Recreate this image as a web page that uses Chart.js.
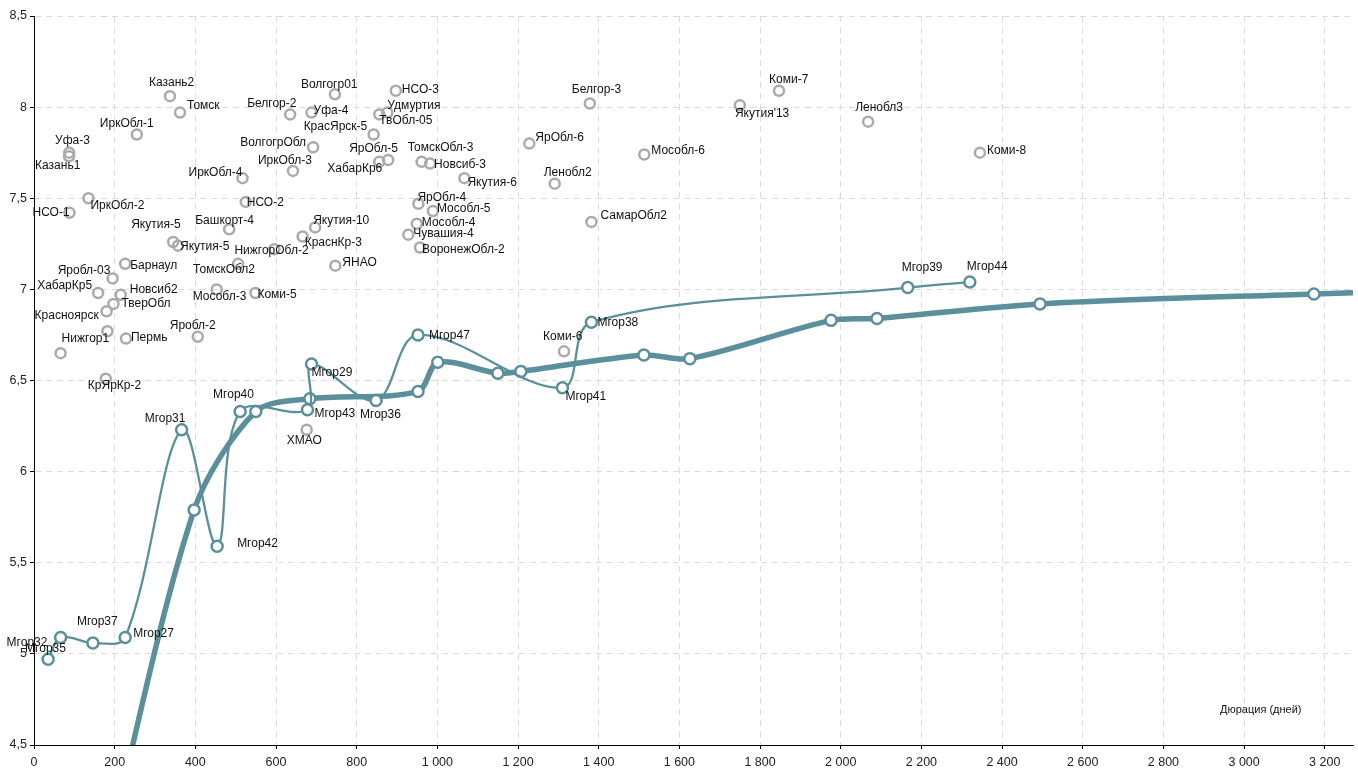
<!DOCTYPE html>
<html>
<head>
<meta charset="utf-8">
<script src="https://cdn.jsdelivr.net/npm/chart.js@4/dist/chart.umd.min.js"></script>
<style>
  html, body { margin: 0; padding: 0; background: #fff; }
  #wrap { width: 1358px; height: 772px; }
</style>
</head>
<body>
<div id="wrap"><canvas id="chart"></canvas></div>
<script>
// Регионы (серые точки)
const regionNames = ['Казань2', 'Томск', 'ИркОбл-1', 'Уфа-3', 'Казань1', 'ИркОбл-4', 'НСО-1', 'ИркОбл-2', 'НСО-2', 'Башкорт-4',
    'Якутия-5', 'Якутия-5', 'Барнаул', 'Яробл-03', 'ХабарКр5', 'Новсиб2', 'ТверОбл', 'Красноярск', '', 'Нижгор1',
    'Пермь', 'Яробл-2', 'КрЯрКр-2', 'ТомскОбл2', 'Мособл-3', 'Коми-5', 'Волгогр01', 'НСО-3', 'Белгор-2', 'Уфа-4',
    'Удмуртия', 'ТвОбл-05', 'КрасЯрск-5', 'ВолгогрОбл', 'ЯрОбл-5', 'ХабарКр6', 'ИркОбл-3', 'ТомскОбл-3', 'Новсиб-3', 'Якутия-6',
    'ЯрОбл-4', 'Мособл-5', 'Мособл-4', 'Чувашия-4', 'ВоронежОбл-2', 'Якутия-10', 'КраснКр-3', 'НижгорОбл-2', 'ЯНАО', 'ЯрОбл-6',
    'Ленобл2', 'СамарОбл2', 'Белгор-3', 'Мособл-6', "Якутия'13", 'Коми-7', 'Ленобл3', 'Коми-8', 'ХМАО', 'Коми-6'];
const regionX = [337, 362, 255, 87, 87, 517, 88, 135, 525, 484,
    345, 357, 226, 195, 159, 215, 197, 180, 182, 66,
    228, 406, 178, 506, 453, 549, 746, 897, 635, 688,
    876, 856, 842, 692, 878, 856, 642, 961, 982, 1067,
    953, 989, 949, 928, 957, 697, 666, 596, 747, 1228,
    1291, 1382, 1378, 1513, 1750, 1847, 2068, 2345, 676, 1314];
const regionY = [8.06, 7.97, 7.85, 7.75, 7.73, 7.61, 7.42, 7.50, 7.48, 7.33,
    7.26, 7.24, 7.14, 7.06, 6.98, 6.97, 6.92, 6.88, 6.77, 6.65,
    6.73, 6.74, 6.51, 7.14, 7.00, 6.98, 8.07, 8.09, 7.96, 7.97,
    7.97, 7.96, 7.85, 7.78, 7.71, 7.70, 7.65, 7.70, 7.69, 7.61,
    7.47, 7.43, 7.36, 7.30, 7.23, 7.34, 7.29, 7.22, 7.13, 7.80,
    7.58, 7.37, 8.02, 7.74, 8.01, 8.09, 7.92, 7.75, 6.23, 6.66];

// Мгор (тонкая линия, в порядке соединения)
const mgorNames = ['Мгор35', 'Мгор32', 'Мгор37', 'Мгор27', 'Мгор31', 'Мгор42', 'Мгор40', 'Мгор43',
    'Мгор29', 'Мгор36', 'Мгор47', 'Мгор41', 'Мгор38', 'Мгор39', 'Мгор44'];
const mgorX = [35, 66, 146, 226, 366, 454, 511, 678, 688, 848, 952, 1310, 1382, 2166, 2320];
const mgorY = [4.97, 5.09, 5.06, 5.09, 6.23, 5.59, 6.33, 6.34, 6.59, 6.39, 6.75, 6.46, 6.82, 7.01, 7.04];

// Сглаженная кривая (толстая линия)
const trendX = [170, 397, 550, 684, 952, 1001, 1150, 1207, 1512, 1626, 1976, 2090, 2494, 3173, 3400];
const trendY = [3.80, 5.79, 6.33, 6.40, 6.44, 6.60, 6.54, 6.55, 6.64, 6.62, 6.83, 6.84, 6.92, 6.975, 6.99];

// Оси
const xTickValues = [0, 200, 400, 600, 800, 1000, 1200, 1400, 1600, 1800, 2000, 2200, 2400, 2600, 2800, 3000, 3200];
const xTickLabels = ['0', '200', '400', '600', '800', '1 000', '1 200', '1 400', '1 600', '1 800', '2 000',
    '2 200', '2 400', '2 600', '2 800', '3 000', '3 200'];
const yTickValues = [4.5, 5, 5.5, 6, 6.5, 7, 7.5, 8, 8.5];
const yTickLabels = ['4,5', '5', '5,5', '6', '6,5', '7', '7,5', '8', '8,5'];
const X_MIN = 0, X_MAX = 3270, Y_MIN = 4.5, Y_MAX = 8.5;
const xTitle = 'Дюрация (дней)';

// Смещения подписей относительно точки (пиксели, левый край текста / середина)
const regionLabelOffsets = [[-21, -14], [7, -7], [-37, -11], [-14, -12], [-34, 9], [-54, -6], [-37, 0], [2, 7], [1, 1], [-34, -9],
    [-42, -17], [2, 1], [5, 2], [-55, -8], [-61, -7], [9, -5], [8, 0], [-72, 4], [0, 0], [1, -14],
    [5, -1], [-28, -11], [-18, 7], [-45, 6], [-24, 7], [2, 2], [-34, -10], [6, -1], [-43, -11], [2, -2],
    [0, -7], [0, 6], [-70, -8], [-73, -5], [-39, -11], [-52, 7], [-35, -10], [-14, -14], [4, 1], [3, 4],
    [-1, -6], [4, -2], [5, -1], [5, -1], [2, 2], [-2, -7], [2, 6], [-40, 1], [7, -3], [6, -6],
    [-11, -11], [9, -6], [-18, -14], [7, -4], [-5, 8], [-10, -11], [-13, -14], [7, -2], [-20, 11], [-21, -15]];
const mgorLabelOffsets = [[-23, -11], [-54, 5], [-16, -21], [8, -4], [-37, -11], [20, -3], [-27, -17], [7, 4],
    [0, 9], [-16, 14], [11, 1], [3, 9], [6, 1], [-6, -20], [-3, -15]];

const TEAL = '#5a8f9b';
const GRAY = '#aaaaaa';
const FONT = '"Liberation Sans", Arial, sans-serif';

const toPoints = (xs, ys) => xs.map((x, i) => ({ x, y: ys[i] }));
const inRange = (p) => p && p.x >= X_MIN && p.x <= X_MAX && p.y >= Y_MIN && p.y <= Y_MAX;

// ── Подписи точек и заголовок оси ─────────────────────────────
const labelPlugin = {
    id: 'pointLabels',
    afterDatasetsDraw(chart) {
        const { ctx, chartArea, scales } = chart;
        const xs = scales.x, ys = scales.y;
        ctx.save();
        ctx.fillStyle = '#111';
        ctx.textAlign = 'left';
        ctx.textBaseline = 'middle';
        ctx.font = '12px ' + FONT;
        const draw = (names, px, py, offs) => names.forEach((n, i) => {
            if (!n) return;
            ctx.fillText(n, xs.getPixelForValue(px[i]) + offs[i][0], ys.getPixelForValue(py[i]) + offs[i][1]);
        });
        draw(regionNames, regionX, regionY, regionLabelOffsets);
        draw(mgorNames, mgorX, mgorY, mgorLabelOffsets);
        ctx.font = '11px ' + FONT;
        ctx.fillText(xTitle, chartArea.right - 133, chartArea.bottom - 35);
        ctx.restore();
    }
};

const gridOpts = {
    color: '#dcdcdc',
    tickLength: 4,
    tickColor: '#000',
    tickBorderDash: [],
};

function initChart() {
    const ctx = document.getElementById('chart').getContext('2d');
    new Chart(ctx, {
        type: 'scatter',
        data: {
            datasets: [
                {
                    data: toPoints(regionX, regionY),
                    showLine: false,
                    pointRadius: 5,
                    pointBorderWidth: 2.5,
                    pointBorderColor: GRAY,
                    pointBackgroundColor: 'rgba(255,255,255,0)',
                },
                {
                    data: toPoints(mgorX, mgorY),
                    showLine: true,
                    borderColor: TEAL,
                    borderWidth: 2.3,
                    tension: 0.35,
                    pointRadius: 5.5,
                    pointBorderWidth: 2.5,
                    pointBorderColor: TEAL,
                    pointBackgroundColor: '#fff',
                },
                {
                    data: toPoints(trendX, trendY),
                    showLine: true,
                    borderColor: TEAL,
                    borderWidth: 5.5,
                    tension: 0.3,
                    pointRadius: (c) => inRange(c.raw) ? 5.5 : 0,
                    pointBorderWidth: 2.5,
                    pointBorderColor: TEAL,
                    pointBackgroundColor: '#fff',
                },
            ]
        },
        options: {
            responsive: true,
            maintainAspectRatio: false,
            animation: false,
            layout: { autoPadding: false, padding: { top: 16, right: 5, left: 0, bottom: 0 } },
            plugins: {
                legend: { display: false },
                tooltip: { enabled: false },
            },
            scales: {
                x: {
                    type: 'linear',
                    min: X_MIN,
                    max: X_MAX,
                    afterBuildTicks: (s) => { s.ticks = xTickValues.map(v => ({ value: v })); },
                    afterFit: (s) => { s.height = 27; },
                    ticks: {
                        callback: (v) => xTickLabels[xTickValues.indexOf(v)],
                        color: '#222',
                        font: { family: FONT, size: 12.5 },
                        padding: 6,
                        maxRotation: 0,
                        autoSkip: false,
                    },
                    grid: gridOpts,
                    border: { color: '#000', width: 1, dash: [6, 5] },
                },
                y: {
                    type: 'linear',
                    min: Y_MIN,
                    max: Y_MAX,
                    afterBuildTicks: (s) => { s.ticks = yTickValues.map(v => ({ value: v })); },
                    afterFit: (s) => { s.width = 34; },
                    ticks: {
                        callback: (v) => yTickLabels[yTickValues.indexOf(v)],
                        color: '#222',
                        font: { family: FONT, size: 12.5 },
                        padding: 3,
                        autoSkip: false,
                    },
                    grid: gridOpts,
                    border: { color: '#000', width: 1, dash: [6, 5] },
                }
            }
        },
        plugins: [labelPlugin]
    });
}

document.addEventListener('DOMContentLoaded', initChart);
</script>
</body>
</html>
